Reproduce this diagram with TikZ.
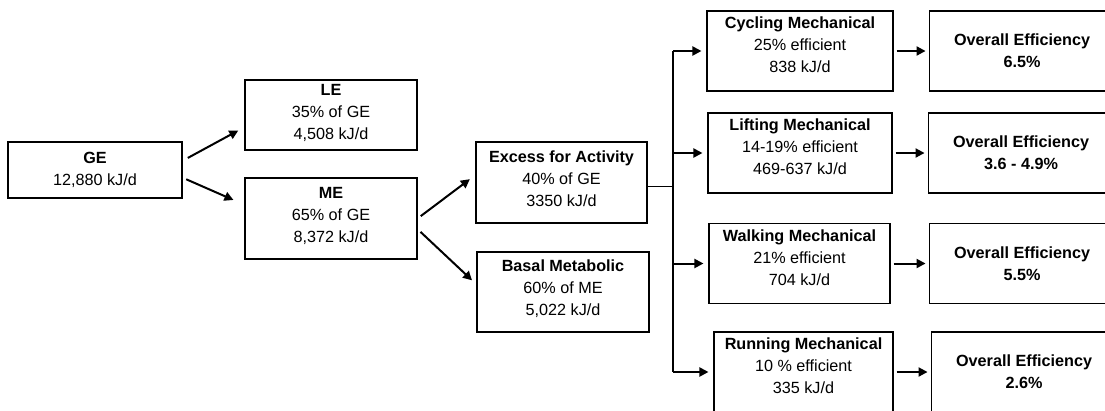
\documentclass[tikz,border=0pt]{standalone}
\usepackage{fontspec}
\setmainfont{Liberation Sans}
\usetikzlibrary{arrows.meta,positioning}

\begin{document}
\begin{tikzpicture}[x=1pt, y=-1pt, node distance=35pt, every node/.style={font=\fontsize{16.2}{22}\selectfont},
			b/.style={draw, line width=1.1pt, align=center, inner sep=0pt, minimum height=80pt},
			up/.style={text height=58.7pt, text depth=#1},
			o/.style={b, minimum width=186pt, font=\fontsize{16.2}{22}\selectfont\bfseries},
			a/.style={line width=2pt, -{Triangle[length=9pt,width=9pt]}}]
			\useasboundingbox (0,0) rectangle (1105,410);
			\node[b, minimum width=174pt, minimum height=56pt] (ge) at (95,170) {\textbf{GE}\\12,880 kJ/d};
			\node[b, up=10.4pt, minimum width=172pt, minimum height=70pt] (le) at (331,115) {\textbf{LE}\\35\% of GE\\4,508 kJ/d};
			\node[b, up=11.4pt, minimum width=172pt, minimum height=81pt] (me) at (331,218.5) {\textbf{ME}\\65\% of GE\\8,372 kJ/d};
			\node[b, up=11.4pt, minimum width=171pt, minimum height=81pt] (ex) at (561.5,182.5) {\textbf{Excess for Activity}\\40\% of GE\\3350 kJ/d};
			\node[b, up=11.4pt, minimum width=172pt] (bm) at (563,292) {\textbf{Basal Metabolic}\\60\% of ME\\5,022 kJ/d};
			\node[b, up=15.4pt, minimum width=186pt] (cy) at (800,51) {\textbf{Cycling Mechanical}\\25\% efficient\\838 kJ/d};
			\node[b, up=15.4pt, minimum width=184pt] (li) at (800,153) {\textbf{Lifting Mechanical}\\14-19\% efficient\\469-637 kJ/d};
			\node[b, up=15.4pt, minimum width=181pt] (wa) at (799.5,263.5) {\textbf{Walking Mechanical}\\21\% efficient\\704 kJ/d};
			\node[b, up=15.4pt, minimum width=179pt] (ru) at (803.5,372) {\textbf{Running Mechanical}\\10 \% efficient\\335 kJ/d};
			\node[o, right=of cy] (oc) {Overall Efficiency\\6.5\%};
			\node[o, right=of li] (ol) {Overall Efficiency\\3.6 - 4.9\%};
			\node[o, right=38pt of wa] (ow) {Overall Efficiency\\5.5\%};
			\node[o, right=37pt of ru] (or) {Overall Efficiency\\2.6\%};
			\coordinate (sp) at (673,186);
			% energy split
			\draw[a, shorten <=6pt, shorten >=7pt] (ge.6.6) -- (le.188.6);
			\draw[a, shorten <=4pt, shorten >=12pt] (ge.-5.3) -- (me.171);
			\draw[a, shorten <=4pt, shorten >=7pt] (me.east) -- (ex.175);
			\draw[a, shorten <=4pt, shorten >=6pt] (me.-7) -- (bm.175.7);
			% activities
			\draw[line width=1pt] (ex.east |- sp) -- (sp);
			\draw[line width=2pt] (sp |- cy.west) -- (sp |- ru.west);
			\foreach \m in {cy, li, wa, ru} \draw[a, shorten >=5pt] (sp |- \m.west) -- (\m.west);
			\foreach \m/\n in {cy/oc, li/ol, wa/ow, ru/or} \draw[a, shorten <=3pt, shorten >=3pt] (\m.east) -- (\m.east -| \n.west);
		\end{tikzpicture}
\end{document}
